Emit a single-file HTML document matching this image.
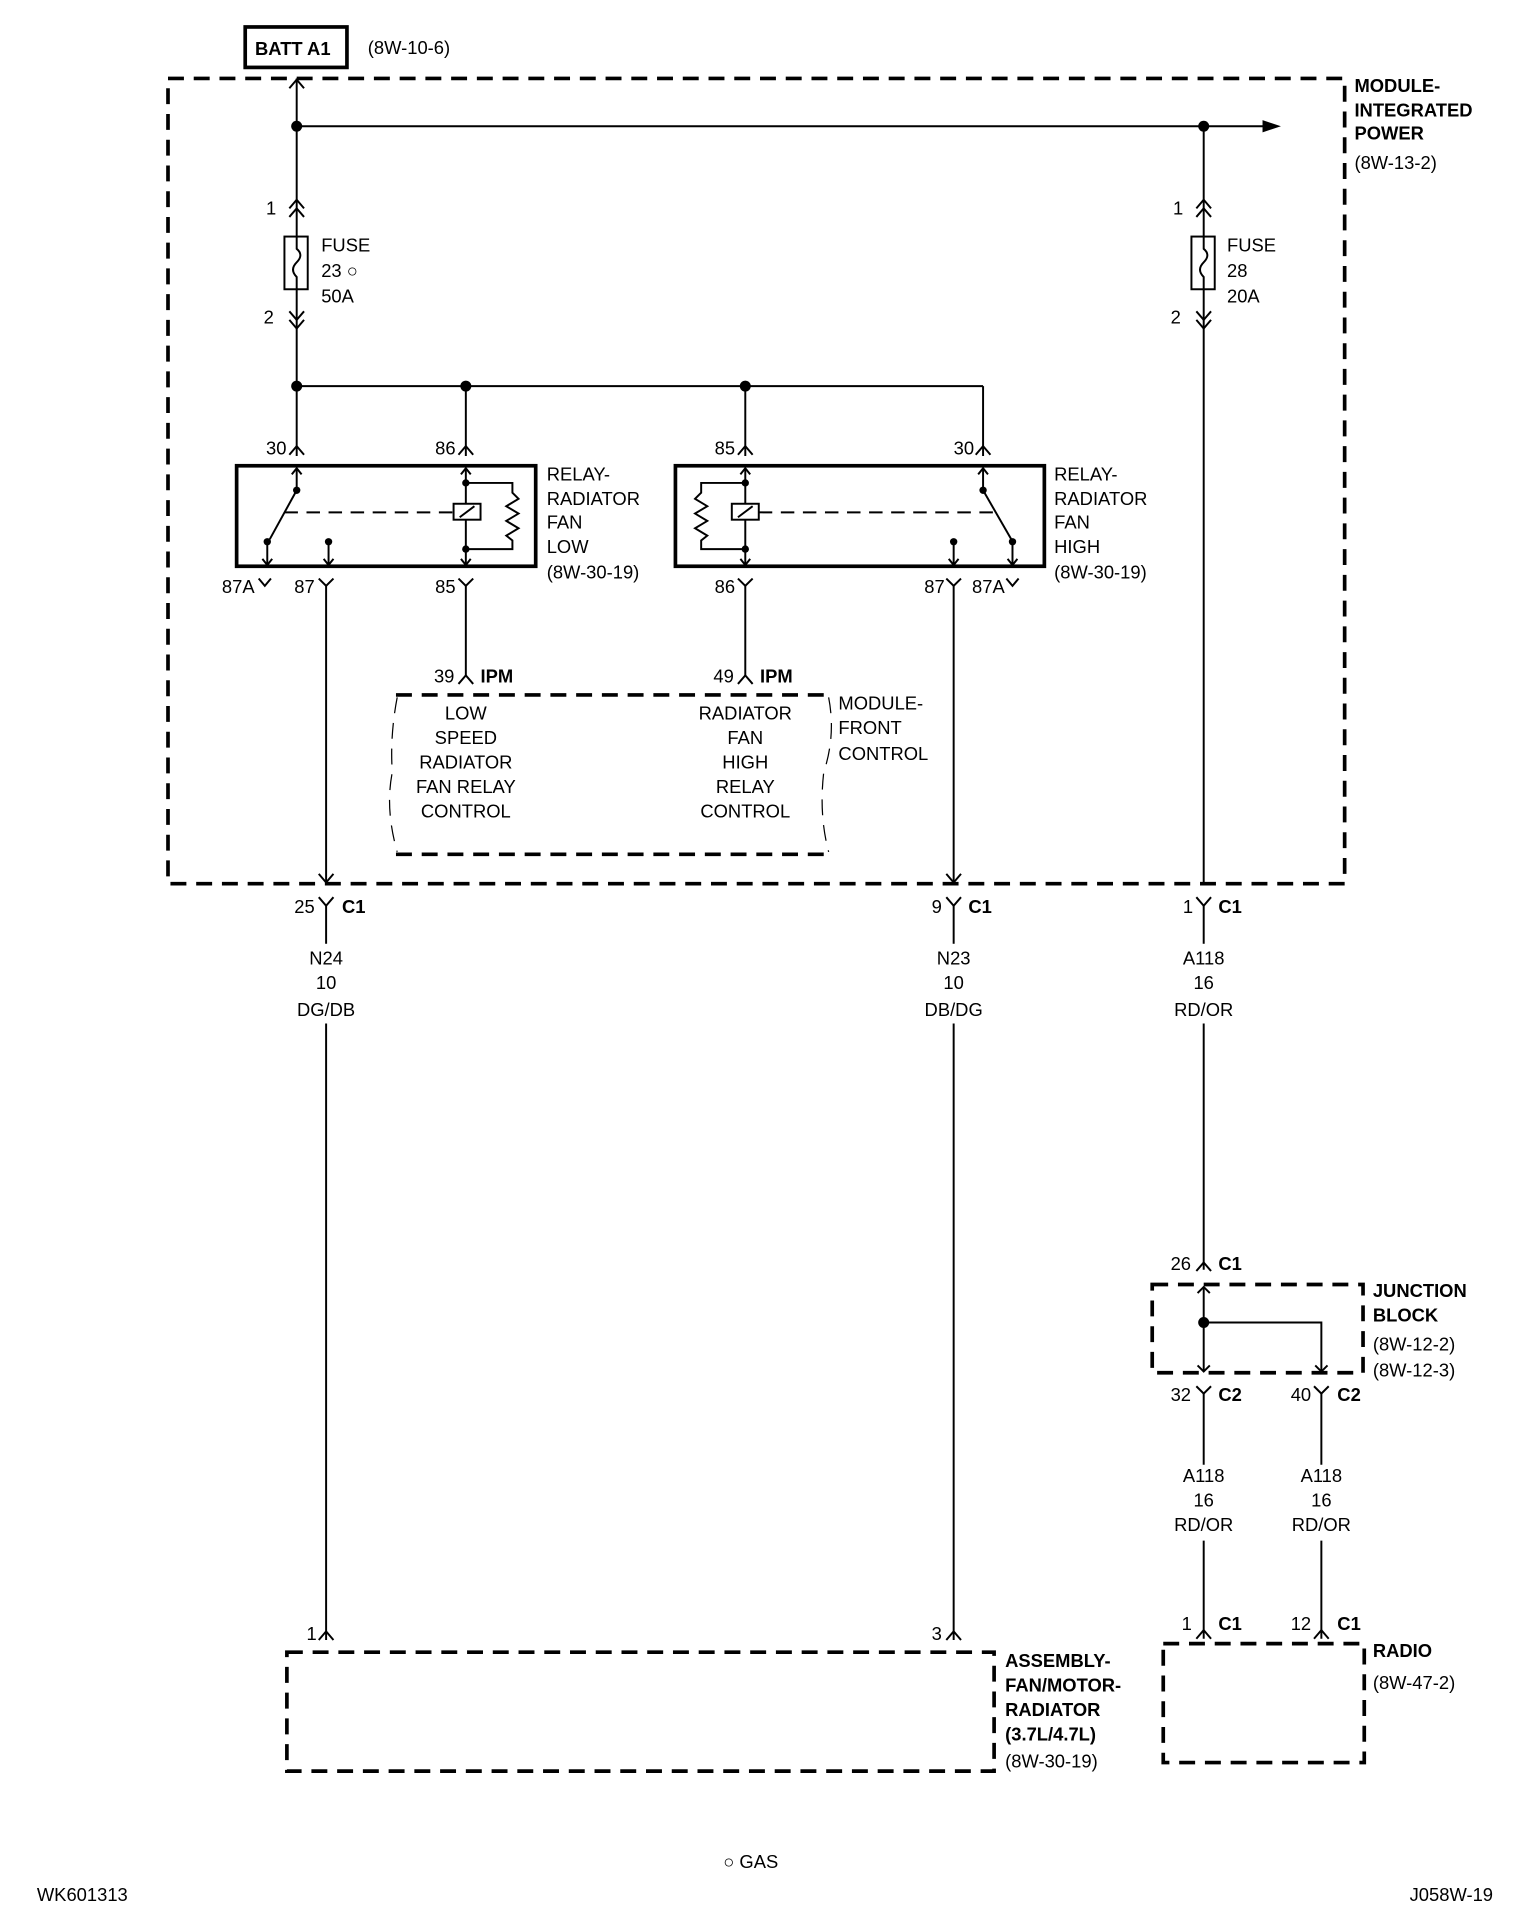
<!DOCTYPE html>
<html><head><meta charset="utf-8"><style>
html,body{margin:0;padding:0;background:#fff;}
svg{display:block;}
text{font-family:"Liberation Sans Narrow","Liberation Sans",Arial,sans-serif;font-size:15px;fill:#000;}
.b{font-weight:bold;}
.c{text-anchor:middle;}
</style></head><body>
<svg width="1520" height="1928" viewBox="0 0 1240 1573" xmlns="http://www.w3.org/2000/svg">
<g fill="none" stroke="#000" stroke-width="1.6">
<!-- BATT box -->
<rect x="200" y="22" width="83" height="33" stroke-width="3"/>
<!-- outer dashed module -->
<rect x="137" y="64" width="960" height="657" stroke-width="3" stroke-dasharray="13 8"/>
<!-- main left vertical -->
<line x1="242" y1="64" x2="242" y2="372"/>
<polyline points="236,72 242,65 248,72"/>
<line x1="242" y1="103" x2="1032" y2="103"/>
<!-- fuse 23 -->
<polyline points="236,170 242,163 248,170"/><polyline points="236,177 242,170 248,177"/>
<rect x="232" y="193" width="19" height="43" fill="#fff"/>
<path d="M242 193 L242 203 Q248 208 242 214 Q236 220 242 226 L242 236" />
<polyline points="236,254 242,261 248,254"/><polyline points="236,261 242,268 248,261"/>
<!-- bus at 315 -->
<line x1="242" y1="315" x2="802" y2="315"/>
<line x1="802" y1="315" x2="802" y2="372"/>
<line x1="380" y1="315" x2="380" y2="372"/>
<line x1="608" y1="315" x2="608" y2="372"/>
<polyline points="236,371 242,364 248,371"/>
<polyline points="374,371 380,364 386,371"/>
<polyline points="602,371 608,364 614,371"/>
<polyline points="796,371 802,364 808,371"/>
<!-- relays -->
<rect x="193" y="380" width="244" height="82" stroke-width="3"/>
<rect x="551" y="380" width="301" height="82" stroke-width="3"/>
<!-- low relay internals -->
<line x1="242" y1="382" x2="242" y2="398"/><polyline points="238,387 242,382 246,387"/>
<line x1="242" y1="400" x2="220" y2="440"/>
<line x1="218" y1="442" x2="218" y2="461"/><polyline points="214,456 218,461 222,456"/>
<line x1="268" y1="442" x2="268" y2="461"/><polyline points="264,456 268,461 272,456"/>
<line x1="232" y1="418" x2="370" y2="418" stroke-dasharray="11 7"/>
<line x1="380" y1="382" x2="380" y2="461"/><polyline points="376,387 380,382 384,387"/><polyline points="376,456 380,461 384,456"/>
<rect x="370" y="411" width="22" height="13" fill="#fff"/><line x1="375" y1="422" x2="387" y2="413"/>
<polyline points="380,394 418,394 418,402 423,407 413,413 423,419 413,425 423,431 413,437 418,441 418,448 380,448"/>
<!-- high relay internals -->
<line x1="608" y1="382" x2="608" y2="461"/><polyline points="604,387 608,382 612,387"/><polyline points="604,456 608,461 612,456"/>
<rect x="597" y="411" width="22" height="13" fill="#fff"/><line x1="602" y1="422" x2="614" y2="413"/>
<polyline points="608,394 572,394 572,402 567,407 577,413 567,419 577,425 567,431 577,437 572,441 572,448 608,448"/>
<line x1="619" y1="418" x2="812" y2="418" stroke-dasharray="11 7"/>
<line x1="802" y1="382" x2="802" y2="398"/><polyline points="798,387 802,382 806,387"/>
<line x1="802" y1="400" x2="825" y2="440"/>
<line x1="826" y1="442" x2="826" y2="461"/><polyline points="822,456 826,461 830,456"/>
<line x1="778" y1="442" x2="778" y2="461"/><polyline points="774,456 778,461 782,456"/>
<!-- lower connectors -->
<polyline points="211,472 216,478 221,472"/>
<polyline points="260,472 266,478 272,472"/><line x1="266" y1="478" x2="266" y2="720"/>
<polyline points="374,472 380,478 386,472"/><line x1="380" y1="478" x2="380" y2="552"/>
<polyline points="602,472 608,478 614,472"/><line x1="608" y1="478" x2="608" y2="552"/>
<polyline points="772,472 778,478 784,472"/><line x1="778" y1="478" x2="778" y2="720"/>
<polyline points="821,472 826,478 831,472"/>
<polyline points="374,558 380,551 386,558"/>
<polyline points="602,558 608,551 614,558"/>
<polyline points="260,713 266,720 272,713"/>
<polyline points="772,713 778,720 784,713"/>
<!-- MFC box -->
<line x1="323" y1="567" x2="676" y2="567" stroke-width="3" stroke-dasharray="13 8"/>
<line x1="323" y1="697" x2="676" y2="697" stroke-width="3" stroke-dasharray="13 8"/>
<path d="M324 569 Q318 600 320 630 Q314 660 324 695" stroke-width="1" stroke-dasharray="13 8"/>
<path d="M676 569 Q682 600 672 630 Q668 665 676 695" stroke-width="1" stroke-dasharray="13 8"/>
<!-- C1 connectors -->
<polyline points="260,732 266,739 272,732"/><line x1="266" y1="739" x2="266" y2="770"/>
<polyline points="772,732 778,739 784,732"/><line x1="778" y1="739" x2="778" y2="770"/>
<polyline points="976,732 982,739 988,732"/><line x1="982" y1="739" x2="982" y2="770"/>
<line x1="266" y1="835" x2="266" y2="1338"/>
<line x1="778" y1="835" x2="778" y2="1338"/>
<!-- right fuse column -->
<line x1="982" y1="103" x2="982" y2="721"/>
<polyline points="976,170 982,163 988,170"/><polyline points="976,177 982,170 988,177"/>
<rect x="972" y="193" width="19" height="43" fill="#fff"/>
<path d="M982 193 L982 203 Q988 208 982 214 Q976 220 982 226 L982 236" />
<polyline points="976,254 982,261 988,254"/><polyline points="976,261 982,268 988,261"/>
<line x1="982" y1="835" x2="982" y2="1036"/>
<polyline points="976,1037 982,1030 988,1037"/>
<!-- junction block -->
<rect x="940" y="1048" width="172" height="72" stroke-width="3" stroke-dasharray="13 8"/>
<line x1="982" y1="1050" x2="982" y2="1119"/><polyline points="977,1055 982,1050 987,1055"/>
<polyline points="982,1079 1078,1079 1078,1119"/>
<polyline points="977,1114 982,1119 987,1114"/><polyline points="1073,1114 1078,1119 1083,1114"/>
<polyline points="976,1131 982,1137 988,1131"/><line x1="982" y1="1137" x2="982" y2="1195"/>
<polyline points="1072,1131 1078,1137 1084,1131"/><line x1="1078" y1="1137" x2="1078" y2="1195"/>
<line x1="982" y1="1257" x2="982" y2="1337"/><line x1="1078" y1="1257" x2="1078" y2="1337"/>
<polyline points="976,1337 982,1330 988,1337"/><polyline points="1072,1337 1078,1330 1084,1337"/>
<rect x="949" y="1341" width="164" height="97" stroke-width="3" stroke-dasharray="13 8"/>
<!-- fan assembly -->
<polyline points="260,1338 266,1331 272,1338"/><polyline points="772,1338 778,1331 784,1338"/>
<rect x="234" y="1348" width="577" height="97" stroke-width="3" stroke-dasharray="13 8"/>
</g>
<g fill="#000">
<circle cx="242" cy="103" r="4.5"/><circle cx="982" cy="103" r="4.5"/>
<polygon points="1030,98 1045,103 1030,108"/>
<circle cx="242" cy="315" r="4.5"/><circle cx="380" cy="315" r="4.5"/><circle cx="608" cy="315" r="4.5"/>
<circle cx="242" cy="400" r="3"/><circle cx="218" cy="442" r="3"/><circle cx="268" cy="442" r="3"/>
<circle cx="380" cy="394" r="3"/><circle cx="380" cy="448" r="3"/>
<circle cx="608" cy="394" r="3"/><circle cx="608" cy="448" r="3"/>
<circle cx="802" cy="400" r="3"/><circle cx="826" cy="442" r="3"/><circle cx="778" cy="442" r="3"/>
<circle cx="982" cy="1079" r="4.5"/>
</g>
<g>
<text x="208" y="45" class="b">BATT A1</text>
<text x="300" y="44">(8W-10-6)</text>
<text x="1105" y="75" class="b">MODULE-</text>
<text x="1105" y="95" class="b">INTEGRATED</text>
<text x="1105" y="114" class="b">POWER</text>
<text x="1105" y="138">(8W-13-2)</text>
<text x="217" y="175">1</text><text x="215" y="264">2</text>
<text x="262" y="205">FUSE</text><text x="262" y="226">23 ○</text><text x="262" y="247">50A</text>
<text x="957" y="175">1</text><text x="955" y="264">2</text>
<text x="1001" y="205">FUSE</text><text x="1001" y="226">28</text><text x="1001" y="247">20A</text>
<text x="217" y="371">30</text><text x="355" y="371">86</text><text x="583" y="371">85</text><text x="778" y="371">30</text>
<text x="446" y="392">RELAY-</text><text x="446" y="412">RADIATOR</text><text x="446" y="431">FAN</text><text x="446" y="451">LOW</text><text x="446" y="472">(8W-30-19)</text>
<text x="860" y="392">RELAY-</text><text x="860" y="412">RADIATOR</text><text x="860" y="431">FAN</text><text x="860" y="451">HIGH</text><text x="860" y="472">(8W-30-19)</text>
<text x="181" y="484">87A</text><text x="240" y="484">87</text><text x="355" y="484">85</text>
<text x="583" y="484">86</text><text x="754" y="484">87</text><text x="793" y="484">87A</text>
<text x="354" y="557">39</text><text x="392" y="557" class="b">IPM</text>
<text x="582" y="557">49</text><text x="620" y="557" class="b">IPM</text>
<text x="380" y="587" class="c">LOW</text><text x="380" y="607" class="c">SPEED</text><text x="380" y="627" class="c">RADIATOR</text><text x="380" y="647" class="c">FAN RELAY</text><text x="380" y="667" class="c">CONTROL</text>
<text x="608" y="587" class="c">RADIATOR</text><text x="608" y="607" class="c">FAN</text><text x="608" y="627" class="c">HIGH</text><text x="608" y="647" class="c">RELAY</text><text x="608" y="667" class="c">CONTROL</text>
<text x="684" y="579">MODULE-</text><text x="684" y="599">FRONT</text><text x="684" y="620">CONTROL</text>
<text x="240" y="745">25</text><text x="279" y="745" class="b">C1</text>
<text x="760" y="745">9</text><text x="790" y="745" class="b">C1</text>
<text x="965" y="745">1</text><text x="994" y="745" class="b">C1</text>
<text x="266" y="787" class="c">N24</text><text x="266" y="807" class="c">10</text><text x="266" y="829" class="c">DG/DB</text>
<text x="778" y="787" class="c">N23</text><text x="778" y="807" class="c">10</text><text x="778" y="829" class="c">DB/DG</text>
<text x="982" y="787" class="c">A118</text><text x="982" y="807" class="c">16</text><text x="982" y="829" class="c">RD/OR</text>
<text x="955" y="1036">26</text><text x="994" y="1036" class="b">C1</text>
<text x="1120" y="1058" class="b">JUNCTION</text><text x="1120" y="1078" class="b">BLOCK</text>
<text x="1120" y="1102">(8W-12-2)</text><text x="1120" y="1123">(8W-12-3)</text>
<text x="955" y="1143">32</text><text x="994" y="1143" class="b">C2</text>
<text x="1053" y="1143">40</text><text x="1091" y="1143" class="b">C2</text>
<text x="982" y="1209" class="c">A118</text><text x="982" y="1229" class="c">16</text><text x="982" y="1249" class="c">RD/OR</text>
<text x="1078" y="1209" class="c">A118</text><text x="1078" y="1229" class="c">16</text><text x="1078" y="1249" class="c">RD/OR</text>
<text x="964" y="1330">1</text><text x="994" y="1330" class="b">C1</text>
<text x="1053" y="1330">12</text><text x="1091" y="1330" class="b">C1</text>
<text x="1120" y="1352" class="b">RADIO</text><text x="1120" y="1378">(8W-47-2)</text>
<text x="250" y="1338">1</text><text x="760" y="1338">3</text>
<text x="820" y="1360" class="b">ASSEMBLY-</text><text x="820" y="1380" class="b">FAN/MOTOR-</text><text x="820" y="1400" class="b">RADIATOR</text><text x="820" y="1420" class="b">(3.7L/4.7L)</text><text x="820" y="1442">(8W-30-19)</text>
<text x="590" y="1524">○ GAS</text>
<text x="30" y="1551">WK601313</text>
<text x="1150" y="1551">J058W-19</text>
</g>
</svg>
</body></html>
